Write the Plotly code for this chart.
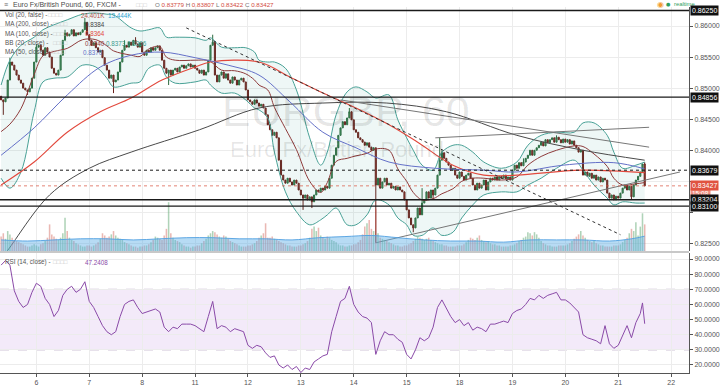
import plotly.graph_objects as go

# ---------------- data ----------------
closes = [
    0.8481, 0.8478, 0.8484, 0.8513, 0.8542, 0.8537, 0.8529, 0.8521, 0.8513, 0.8508,
    0.8500, 0.8497, 0.8494, 0.8500, 0.8516, 0.8542, 0.8566, 0.8569, 0.8561, 0.8553,
    0.8565, 0.8558, 0.8550, 0.8532, 0.8524, 0.8521, 0.8529, 0.8553, 0.8577, 0.8589,
    0.8584, 0.8587, 0.8594, 0.8584, 0.8589, 0.8586, 0.8590, 0.8594, 0.8606, 0.8586,
    0.8577, 0.8569, 0.8573, 0.8565, 0.8558, 0.8561, 0.8549, 0.8537, 0.8529, 0.8516,
    0.8521, 0.8510, 0.8513, 0.8526, 0.8542, 0.8561, 0.8569, 0.8566, 0.8574, 0.8569,
    0.8577, 0.8571, 0.8566, 0.8573, 0.8558, 0.8553, 0.8561, 0.8558, 0.8565, 0.8561,
    0.8565, 0.8568, 0.8561, 0.8545, 0.8532, 0.8524, 0.8529, 0.8521, 0.8529, 0.8532,
    0.8526, 0.8534, 0.8537, 0.8532, 0.8536, 0.8539, 0.8534, 0.8537, 0.8532, 0.8529,
    0.8524, 0.8529, 0.8521, 0.8526, 0.8545, 0.8569, 0.8574, 0.8521, 0.8510, 0.8521,
    0.8526, 0.8516, 0.8523, 0.8513, 0.8508, 0.8518, 0.8513, 0.8505, 0.8513, 0.8516,
    0.8510, 0.8497, 0.8481, 0.8478, 0.8474, 0.8481, 0.8476, 0.8471, 0.8474, 0.8468,
    0.8457, 0.8441, 0.8433, 0.8424, 0.8429, 0.8420, 0.8384, 0.8360, 0.8352, 0.8347,
    0.8355, 0.8349, 0.8344, 0.8352, 0.8347, 0.8336, 0.8328, 0.8323, 0.8328, 0.8320,
    0.8325, 0.8317, 0.8328, 0.8336, 0.8333, 0.8339, 0.8336, 0.8342, 0.8339, 0.8355,
    0.8376, 0.8392, 0.8404, 0.8424, 0.8436, 0.8446, 0.8441, 0.8452, 0.8462, 0.8449,
    0.8433, 0.8429, 0.8420, 0.8417, 0.8413, 0.8408, 0.8412, 0.8405, 0.8400, 0.8404,
    0.8344, 0.8355, 0.8339, 0.8349, 0.8355, 0.8344, 0.8347, 0.8339, 0.8342, 0.8336,
    0.8341, 0.8336, 0.8333, 0.8320, 0.8304, 0.8291, 0.8280, 0.8275, 0.8291, 0.8307,
    0.8296, 0.8315, 0.8320, 0.8333, 0.8323, 0.8336, 0.8328, 0.8339, 0.8360, 0.8384,
    0.8396, 0.8387, 0.8381, 0.8376, 0.8368, 0.8371, 0.8360, 0.8355, 0.8365, 0.8358,
    0.8352, 0.8360, 0.8363, 0.8355, 0.8344, 0.8336, 0.8347, 0.8339, 0.8344, 0.8352,
    0.8336, 0.8349, 0.8355, 0.8352, 0.8357, 0.8352, 0.8358, 0.8355, 0.8360, 0.8354,
    0.8357, 0.8352, 0.8368, 0.8376, 0.8371, 0.8380, 0.8375, 0.8381, 0.8387, 0.8392,
    0.8400, 0.8392, 0.8400, 0.8404, 0.8408, 0.8413, 0.8407, 0.8417, 0.8412, 0.8417,
    0.8420, 0.8413, 0.8421, 0.8417, 0.8412, 0.8418, 0.8413, 0.8417, 0.8410, 0.8415,
    0.8408, 0.8404, 0.8397, 0.8400, 0.8360, 0.8365, 0.8358, 0.8363, 0.8355, 0.8360,
    0.8352, 0.8357, 0.8349, 0.8355, 0.8352, 0.8331, 0.8323, 0.8328, 0.8320, 0.8326,
    0.8323, 0.8331, 0.8339, 0.8344, 0.8336, 0.8342, 0.8325, 0.8344, 0.8352, 0.8358,
    0.8365, 0.83779, 0.83427,
]
first_open = 0.8487
high_marks = {4: 0.8549, 16: 0.8571, 29: 0.8594, 38: 0.8613, 56: 0.8577, 61: 0.8582,
              96: 0.8586, 158: 0.8468, 191: 0.8339, 199: 0.8420, 200: 0.8400,
              237: 0.8387, 252: 0.8424, 292: 0.83807}
low_marks = {1: 0.8457, 12: 0.8489, 51: 0.8492, 76: 0.8505, 137: 0.8304, 141: 0.8307,
             170: 0.8251, 187: 0.8268, 196: 0.8320, 286: 0.8320, 292: 0.83422}

volumes_k = [
    13, 16, 11, 18, 15, 12, 10, 9, 8, 7, 6, 5, 4, 4, 5, 6,
    5, 4, 6, 7, 9, 12, 24, 15, 13, 11, 10, 12, 16, 30, 18, 12, 10, 9, 7, 6, 5, 4, 4, 5,
    5, 4, 5, 6, 8, 11, 16, 14, 12, 13, 15, 18, 14, 12, 11, 10, 8, 7, 6, 5, 4, 4, 3, 4,
    4, 5, 5, 6, 8, 10, 13, 12, 11, 10, 14, 20, 44, 16, 12, 10, 9, 8, 6, 5, 4, 4, 3, 4,
    4, 5, 5, 7, 9, 11, 14, 16, 18, 17, 15, 13, 12, 14, 13, 11, 9, 8, 7, 6, 5, 4, 4, 4,
    5, 5, 6, 7, 9, 12, 14, 16, 25, 12, 12, 13, 11, 10, 9, 8, 7, 6, 5, 5, 4, 4, 4, 5,
    5, 6, 7, 9, 12, 20, 22, 18, 21, 14, 12, 11, 13, 12, 10, 9, 8, 6, 5, 5, 4, 4, 5, 5,
    6, 6, 8, 10, 15, 22, 25, 28, 20, 18, 38, 16, 12, 11, 10, 9, 8, 7, 6, 5, 5, 4, 4, 5,
    5, 6, 7, 9, 11, 13, 12, 11, 10, 11, 12, 10, 9, 8, 7, 6, 6, 5, 5, 4, 4, 4, 4, 5,
    5, 5, 6, 8, 10, 12, 11, 10, 12, 14, 10, 9, 8, 9, 7, 6, 6, 5, 5, 4, 4, 4, 4, 5,
    5, 6, 7, 9, 10, 12, 13, 17, 16, 14, 17, 15, 12, 9, 7, 6, 5, 5, 4, 4, 4, 5, 5, 5,
    5, 6, 7, 9, 11, 13, 15, 18, 14, 12, 10, 9, 8, 9, 7, 6, 5, 5, 4, 4, 4, 4, 5, 5,
    5, 6, 8, 10, 12, 16, 20, 18, 26, 14, 22, 34, 24,
]
vol_ma_idx = [0, 12, 24, 36, 48, 60, 72, 84, 96, 108, 120, 132, 144, 156, 168, 180,
              192, 204, 216, 228, 240, 252, 264, 276, 286, 292]
vol_ma_k = [10, 9, 10, 11, 11, 10, 11, 12, 12, 11, 11, 10, 12, 13, 14, 12,
            10, 9, 9, 8, 10, 10, 10, 9, 11, 13.4]

ma200_idx = [0, 3, 22, 40, 59, 90, 117, 146, 175, 202, 234, 264, 292]
ma200 = [0.8226, 0.8239, 0.8328, 0.8371, 0.8397, 0.8433, 0.8468, 0.8476, 0.8476,
         0.8462, 0.8424, 0.8400, 0.8384]
ma100_idx = [0, 15, 30, 45, 59, 73, 88, 95, 117, 131, 146, 161, 176, 189, 205, 219, 234, 263, 292]
ma100 = [0.8344, 0.8381, 0.8429, 0.8462, 0.8484, 0.8513, 0.8534, 0.8542, 0.8542, 0.8518,
         0.8492, 0.8468, 0.8441, 0.8413, 0.8376, 0.8360, 0.8360, 0.8368, 0.8364]
ma50_idx = [0, 15, 30, 45, 59, 73, 88, 103, 117, 131, 146, 161, 176, 197, 219, 234, 255, 278, 292]
ma50 = [0.8392, 0.8436, 0.8489, 0.8534, 0.8553, 0.8558, 0.8549, 0.8537, 0.8521, 0.8478,
        0.8429, 0.8404, 0.8381, 0.8371, 0.8368, 0.8365, 0.8376, 0.8380, 0.8370]

bb_idx = [0, 4, 9, 15, 19, 24, 30, 37, 43, 48, 51, 59, 63, 67, 72, 75, 79, 88, 93, 95,
          100, 106, 111, 115, 117, 121, 124, 129, 134, 140, 145, 148, 152, 157, 161, 166,
          170, 176, 180, 184, 187, 191, 196, 200, 205, 209, 214, 219, 227, 234, 239, 245,
          252, 260, 264, 269, 275, 278, 282, 288, 292]
bb_upper = [0.8505, 0.8545, 0.8569, 0.8582, 0.8594, 0.8602, 0.8610, 0.8619, 0.8621, 0.8619,
            0.8618, 0.8597, 0.8592, 0.8594, 0.8597, 0.8582, 0.8582, 0.8581, 0.8577, 0.8581,
            0.8566, 0.8565, 0.8565, 0.8558, 0.8545, 0.8542, 0.8542, 0.8532, 0.8497, 0.8420,
            0.8376, 0.8397, 0.8457, 0.8494, 0.8502, 0.8494, 0.8484, 0.8489, 0.8449, 0.8420,
            0.8400, 0.8376, 0.8368, 0.8397, 0.8408, 0.8408, 0.8397, 0.8381, 0.8371, 0.8381,
            0.8408, 0.8424, 0.8429, 0.8429, 0.8444, 0.8444, 0.8424, 0.8397, 0.8371, 0.8376,
            0.8381]
bb_basis = [0.8430, 0.8442, 0.8467, 0.8522, 0.8552, 0.8559, 0.8564, 0.8578, 0.8578, 0.8568,
            0.8560, 0.8553, 0.8551, 0.8563, 0.8567, 0.8550, 0.8545, 0.8545, 0.8545, 0.8543,
            0.8529, 0.8528, 0.8523, 0.8513, 0.8505, 0.8497, 0.8469, 0.8435, 0.8401, 0.8350,
            0.8332, 0.8348, 0.8382, 0.8387, 0.8391, 0.8395, 0.8402, 0.8400, 0.8370, 0.8350,
            0.8332, 0.8320, 0.8322, 0.8330, 0.8338, 0.8350, 0.8355, 0.8355, 0.8352, 0.8357,
            0.8376, 0.8390, 0.8400, 0.8407, 0.8406, 0.8394, 0.8374, 0.8355, 0.8344, 0.8346,
            0.8348]
bb_lower = [0.8355, 0.8339, 0.8365, 0.8462, 0.8510, 0.8516, 0.8518, 0.8537, 0.8534, 0.8516,
            0.8502, 0.8508, 0.8510, 0.8532, 0.8537, 0.8518, 0.8508, 0.8510, 0.8513, 0.8505,
            0.8492, 0.8492, 0.8481, 0.8468, 0.8465, 0.8452, 0.8397, 0.8333, 0.8301, 0.8280,
            0.8288, 0.8296, 0.8307, 0.8280, 0.8280, 0.8296, 0.8320, 0.8312, 0.8291, 0.8280,
            0.8263, 0.8263, 0.8275, 0.8263, 0.8268, 0.8291, 0.8312, 0.8328, 0.8333, 0.8333,
            0.8344, 0.8355, 0.8371, 0.8384, 0.8368, 0.8344, 0.8323, 0.8312, 0.8317, 0.8315,
            0.8315]

rsi_idx = list(range(0, 291, 2)) + [291, 292]
rsi = [
    86, 89, 86, 69, 62, 58, 60, 68, 74, 72,
    64, 60, 52, 56, 66, 70, 72, 68, 70, 75,
    62, 58, 52, 46, 42, 40, 42, 52, 60, 62,
    63, 58, 54, 55, 56, 57, 55, 45, 42, 45,
    44, 47, 47, 47, 46, 44, 42, 52, 62, 44,
    46, 45, 42, 44, 43, 42, 33, 31, 33, 32,
    28, 25, 26, 20, 18, 20, 17, 19, 15, 18,
    17, 22, 24, 26, 27, 42, 52, 62, 64, 72,
    60, 55, 52, 51, 48, 27, 36, 42, 40, 40,
    37, 35, 27, 24, 30, 38, 36, 38, 45, 58,
    63, 57, 52, 48, 50, 46, 48, 43, 45, 44,
    42, 47, 47, 48, 49, 48, 54, 56, 57, 60,
    64, 63, 66, 64, 66, 67, 68, 63, 63, 61,
    58, 55, 40, 38, 37, 36, 34, 46, 34, 31,
    33, 40, 46, 38, 48, 54,
    61, 47.2408,
]
rsi_levels = [70, 30]

day_idx = [16, 40, 64, 88, 112, 136, 160, 184, 208, 232, 256, 280, 304]
day_labels = ['6', '7', '8', '11', '12', '13', '14', '15', '18', '19', '20', '21', '22']
price_ticks = [0.825, 0.830, 0.835, 0.840, 0.845, 0.850, 0.855, 0.860]
hidden_price_ticks = [0.830, 0.835]
rsi_ticks = [20, 30, 40, 50, 60, 70, 80, 90]

levels_solid = [0.86250, 0.84856, 0.83204, 0.83100]
level_dotted = 0.83679
last_price = 0.83427
trend_dotted = ([84, 281], [0.8597, 0.8264])
trend_support = ([170, 308], [0.8251, 0.8365])
trend_flat = ([197, 294], [0.8420, 0.8437])
trend_desc = ([154, 294], [0.8481, 0.8405])

# ---------------- build ----------------
n = len(closes)
bars = list(range(n))
opens = [first_open] + closes[:-1]
highs = [max(o, c) for o, c in zip(opens, closes)]
lows = [min(o, c) for o, c in zip(opens, closes)]
for k, v in high_marks.items():
    highs[k] = max(highs[k], v)
for k, v in low_marks.items():
    lows[k] = min(lows[k], v)

UP_F, UP_L = '#5fa772', '#2d6a3e'
DN_F, DN_L = '#b9433b', '#6a1f19'
FONT = 'Liberation Sans, Arial, sans-serif'

fig = go.Figure()

fig.add_trace(go.Scatter(x=bb_idx, y=bb_upper, mode='lines', line=dict(color='#48a196', width=1, shape='spline'),
                         xaxis='x', yaxis='y', hoverinfo='skip'))
fig.add_trace(go.Scatter(x=bb_idx, y=bb_lower, mode='lines', line=dict(color='#48a196', width=1, shape='spline'),
                         fill='tonexty', fillcolor='rgba(40,150,140,0.08)', xaxis='x', yaxis='y', hoverinfo='skip'))
fig.add_trace(go.Scatter(x=bb_idx, y=bb_basis, mode='lines', line=dict(color='#8e3b3b', width=1, shape='spline'),
                         xaxis='x', yaxis='y', hoverinfo='skip'))
fig.add_trace(go.Scatter(x=ma200_idx, y=ma200, mode='lines', line=dict(color='#4a4a4a', width=1, shape='spline'),
                         xaxis='x', yaxis='y', hoverinfo='skip'))
fig.add_trace(go.Scatter(x=ma100_idx, y=ma100, mode='lines', line=dict(color='#e2483c', width=1.1, shape='spline'),
                         xaxis='x', yaxis='y', hoverinfo='skip'))
fig.add_trace(go.Scatter(x=ma50_idx, y=ma50, mode='lines', line=dict(color='#6470c8', width=1, shape='spline'),
                         xaxis='x', yaxis='y', hoverinfo='skip'))
for tl, col, dash in [(trend_dotted, '#333333', 'dot'), (trend_support, '#777777', 'solid'),
                      (trend_flat, '#777777', 'solid'), (trend_desc, '#777777', 'solid')]:
    fig.add_trace(go.Scatter(x=tl[0], y=tl[1], mode='lines', line=dict(color=col, width=1, dash=dash),
                             xaxis='x', yaxis='y', hoverinfo='skip'))

fig.add_trace(go.Candlestick(x=bars, open=opens, high=highs, low=lows, close=closes,
                             increasing=dict(fillcolor=UP_F, line=dict(color=UP_L, width=1)),
                             decreasing=dict(fillcolor=DN_F, line=dict(color=DN_L, width=1)),
                             whiskerwidth=0, xaxis='x', yaxis='y', hoverinfo='skip'))

vol_colors = ['rgba(95,167,114,0.50)' if c >= o else 'rgba(205,85,75,0.42)' for o, c in zip(opens, closes)]
fig.add_trace(go.Bar(x=bars, y=volumes_k, marker=dict(color=vol_colors, line=dict(width=0)),
                     xaxis='x', yaxis='y3', hoverinfo='skip'))
fig.add_trace(go.Scatter(x=vol_ma_idx, y=vol_ma_k, mode='lines', fill='tozeroy',
                         fillcolor='rgba(95,175,230,0.45)', line=dict(color='rgba(80,160,225,0.9)', width=1, shape='spline'),
                         xaxis='x', yaxis='y3', hoverinfo='skip'))

fig.add_trace(go.Scatter(x=rsi_idx, y=rsi, mode='lines', line=dict(color='#8a4aa8', width=1),
                         xaxis='x2', yaxis='y2', hoverinfo='skip'))

shapes = []
for lv in levels_solid:
    shapes.append(dict(type='line', xref='paper', yref='y', x0=0, x1=1, y0=lv, y1=lv,
                       line=dict(color='#1a1a1a', width=1.4), layer='above'))
shapes.append(dict(type='line', xref='paper', yref='y', x0=0, x1=1, y0=level_dotted, y1=level_dotted,
                   line=dict(color='#1a1a1a', width=1, dash='dot'), layer='above'))
shapes.append(dict(type='line', xref='paper', yref='y', x0=0, x1=1, y0=last_price, y1=last_price,
                   line=dict(color='rgba(215,80,60,0.7)', width=1, dash='dot'), layer='above'))
shapes.append(dict(type='rect', xref='paper', yref='y2', x0=0, x1=1, y0=rsi_levels[1], y1=rsi_levels[0],
                   fillcolor='rgba(160,90,210,0.13)', line=dict(width=0), layer='below'))
for lv in rsi_levels:
    shapes.append(dict(type='line', xref='paper', yref='y2', x0=0, x1=1, y0=lv, y1=lv,
                       line=dict(color='#b9a7c6', width=1, dash='dash'), layer='below'))
shapes.append(dict(type='line', xref='paper', yref='paper', x0=0, x1=1, y0=0.3306, y1=0.3306,
                   line=dict(color='#c8c8c8', width=2)))


def pyp(py):
    return (373 - py) / 366.0


def pxp(px):
    return px / 697.0


ann = []


def txt(px, py, text, size=6.5, color='#555555', anchor='left', family=FONT):
    ann.append(dict(x=pxp(px), y=pyp(py), xref='paper', yref='paper', text=text, showarrow=False,
                    xanchor=anchor, yanchor='middle', font=dict(size=size, color=color, family=family)))


ICONS = '□□□□'
txt(2, 5, '≡', 7, '#666666')
txt(11, 5, 'Euro Fx/British Pound, 60, FXCM -', 7, '#4a4a4a')
txt(136, 5, '□□□', 6, '#c6c6c6')
txt(155, 5, "O <span style='color:#d24a3e'>0.83779</span> H <span style='color:#d24a3e'>0.83807</span> "
             "L <span style='color:#d24a3e'>0.83422</span> C <span style='color:#d24a3e'>0.83427</span>", 6.2, '#777777')
txt(3, 15, 'Vol (20, false) -', 6.3, '#555555')
txt(47, 15, ICONS, 6, '#c6c6c6')
txt(80, 15, "<span style='color:#b5534a'>24.401K</span>  <span style='color:#2f9fd0'>13.444K</span>", 6.3)
txt(3, 24, 'MA (200, close) -', 6.3, '#555555')
txt(52, 24, ICONS, 6, '#c6c6c6')
txt(84, 24, '0.8384', 6.3, '#444444')
txt(3, 34, 'MA (100, close) -', 6.3, '#555555')
txt(52, 34, ICONS, 6, '#c6c6c6')
txt(84, 34, '0.8364', 6.3, '#e2483c')
txt(3, 43, 'BB (20, close) -', 6.3, '#555555')
txt(52, 43, ICONS, 6, '#c6c6c6')
txt(84, 43, "<span style='color:#8e3b3b'>0.8340</span> <span style='color:#3a9a8e'>0.8373</span> "
            "<span style='color:#3a9a8e'>0.8306</span>", 6.3)
txt(3, 52, 'MA (50, close) -', 6.3, '#555555')
txt(50, 52, ICONS, 6, '#c6c6c6')
txt(82, 52, '0.8370', 6.3, '#6470c8')
txt(3, 262, 'RSI (14, close) -', 6.3, '#555555')
txt(52, 262, ICONS, 6, '#c6c6c6')
txt(84, 262, '47.2408', 6.3, '#8a4aa8')
txt(350, 111, 'EURGBP, 60', 43, 'rgba(0,0,0,0.10)', 'center')
txt(341, 149, 'Euro Fx/British Pound', 22, 'rgba(0,0,0,0.10)', 'center')
txt(668, 4, '◉', 8, '#f39c33', 'center', 'DejaVu Sans')
txt(676, 4, '●', 5, '#2e9e5e', 'center', 'DejaVu Sans')
txt(680, 4, 'realtime', 5.8, '#2e9e5e')


def plabel(val, text, bg, yshift=0, size=7):
    ann.append(dict(x=1, y=val, xref='paper', yref='y', text=text, showarrow=False, xanchor='left',
                    yanchor='middle', xshift=1, yshift=yshift, bgcolor=bg, borderpad=1,
                    font=dict(size=size, color='white', family=FONT)))


plabel(last_price, '15:08', '#ee8e80', yshift=-8, size=6.5)
plabel(last_price, f'{last_price:.5f}', '#e0533f')
plabel(level_dotted, f'{level_dotted:.5f}', '#111111')
for lv in levels_solid:
    plabel(lv, f'{lv:.5f}', '#111111')

price_text = ['' if t in hidden_price_ticks else f'{t:.5f}' for t in price_ticks]

fig.update_layout(
    width=720, height=388,
    margin=dict(l=0, r=23, t=7, b=15),
    paper_bgcolor='white', plot_bgcolor='white',
    showlegend=False, hovermode=False, bargap=0.3,
    font=dict(family=FONT, size=7, color='#555555'),
    xaxis=dict(domain=[0, 1], anchor='y', range=[-0.5, 312.1], tickvals=day_idx, showticklabels=False,
               showgrid=True, gridcolor='#ececec', gridwidth=1, zeroline=False,
               rangeslider=dict(visible=False), ticks=''),
    xaxis2=dict(domain=[0, 1], anchor='y2', matches='x', range=[-0.5, 312.1], tickvals=day_idx,
                ticktext=day_labels, showgrid=True, gridcolor='#ececec', zeroline=False,
                showline=True, linecolor='#555555', linewidth=1, ticks='outside', ticklen=3,
                tickcolor='#555555', tickfont=dict(size=7, color='#555555')),
    yaxis=dict(domain=[0.3333, 1], anchor='x', side='right', range=[0.82378, 0.86306],
               tickvals=price_ticks, ticktext=price_text, showgrid=True, gridcolor='#ececec',
               zeroline=False, showline=True, linecolor='#555555', linewidth=1, ticks='outside',
               ticklen=3, tickcolor='#555555', tickfont=dict(size=7, color='#555555')),
    yaxis3=dict(overlaying='y', anchor='x', range=[0, 220], visible=False),
    yaxis2=dict(domain=[0, 0.3279], anchor='x2', side='right', range=[14.7, 94.0],
                tickvals=rsi_ticks, ticktext=[f'{t:.4f}' for t in rsi_ticks], showgrid=True,
                gridcolor='#ececec', zeroline=False, showline=True, linecolor='#555555', linewidth=1,
                ticks='outside', ticklen=3, tickcolor='#555555', tickfont=dict(size=7, color='#555555')),
    shapes=shapes, annotations=ann,
)

fig.write_html('out.html', config={'displayModeBar': False},
               post_script="document.body.style.margin='0px';document.body.style.overflow='hidden';")
